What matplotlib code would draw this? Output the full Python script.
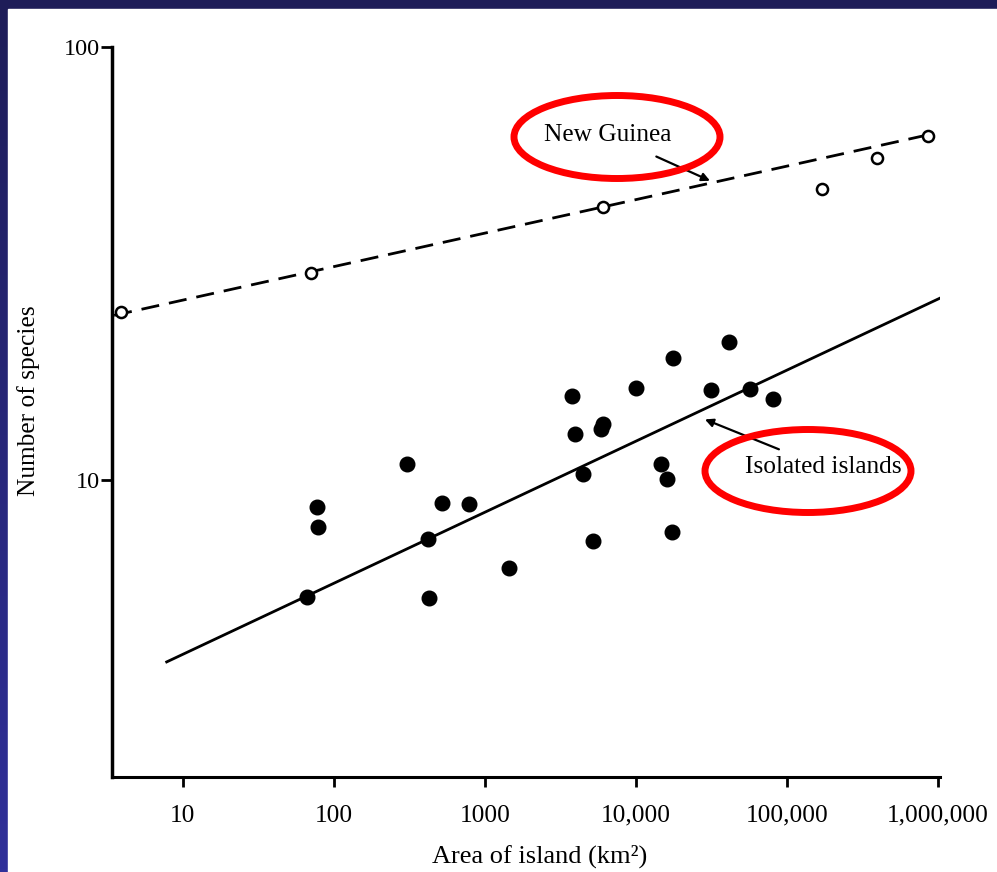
import numpy as np
import matplotlib
matplotlib.use("Agg")
import matplotlib.pyplot as plt
from matplotlib.colors import LinearSegmentedColormap
from matplotlib.patches import Ellipse, Rectangle

# New Guinea: open circles and dashed fit
ng_area = [3.9, 70, 6000, 170000, 394000, 860000]
ng_species = [24.4, 30.1, 42.7, 47.0, 55.5, 62.2]
ng_fit_area = [3.5, 955000]
ng_fit_species = [24.0, 63.2]

# Isolated islands: filled dots and solid fit
iso_area = [66, 77, 78, 304, 420, 426, 519, 783, 1440, 3770, 3940, 4460,
            5190, 5860, 6040, 10000, 14650, 16000, 17300, 17600, 31400,
            41300, 56900, 80700]
iso_species = [5.37, 8.67, 7.79, 10.9, 7.31, 5.34, 8.85, 8.81, 6.27, 15.6,
               12.8, 10.3, 7.22, 13.1, 13.5, 16.3, 10.9, 10.05, 7.59, 19.1,
               16.1, 20.8, 16.2, 15.4]
iso_fit_area = [7.8, 1030000]
iso_fit_species = [3.80, 26.3]

x_ticks = [10, 100, 1000, 10000, 100000, 1000000]
x_tick_labels = ["10", "100", "1000", "10,000", "100,000", "1,000,000"]
y_ticks = [10, 100]
y_tick_labels = ["10", "100"]

W, H = 997, 872
SERIF = "Liberation Serif"

fig = plt.figure(figsize=(W / 100, H / 100), dpi=100)

# slide background: navy gradient with white page
bg = fig.add_axes([0, 0, 1, 1], zorder=-10)
cmap = LinearSegmentedColormap.from_list("navy", ["#1e1d58", "#30309a"])
bg.imshow(np.linspace(0, 1, 256).reshape(-1, 1), aspect="auto", cmap=cmap,
          extent=[0, 1, 0, 1])
bg.add_patch(Rectangle((8 / W, 0), 1 - 8 / W, 1 - 9 / H, color="white"))
bg.set_xlim(0, 1)
bg.set_ylim(0, 1)
bg.axis("off")


def fx(px):
    return px / W


def fy(py):
    return 1 - py / H


ax = fig.add_axes([fx(112), fy(777), fx(940) - fx(112), fy(47) - fy(777)])
ax.patch.set_alpha(0)
ax.set_xscale("log")
ax.set_yscale("log")
ax.set_xlim(10 ** 0.53, 10 ** 6.013)
ax.set_ylim(10 ** 0.314, 100)

ax.plot(ng_fit_area, ng_fit_species, color="black", lw=2, dashes=(6.5, 3.6))
ax.plot(ng_area, ng_species, "o", ms=8, mfc="white", mec="black", mew=1.8,
        clip_on=False)
ax.plot(iso_fit_area, iso_fit_species, color="black", lw=2)
ax.plot(iso_area, iso_species, "o", ms=10.5, color="black")

for s in ["top", "right"]:
    ax.spines[s].set_visible(False)
ax.spines["left"].set_linewidth(2.5)
ax.spines["bottom"].set_linewidth(2.2)

ax.set_xticks(x_ticks)
ax.set_xticklabels(x_tick_labels, fontfamily=SERIF, fontsize=18.3)
ax.set_yticks(y_ticks)
ax.set_yticklabels(y_tick_labels, fontfamily=SERIF, fontsize=17.5)
ax.minorticks_off()
ax.tick_params(axis="x", direction="out", length=7, width=2, pad=13)
ax.tick_params(axis="y", direction="out", length=8, width=2, pad=1)

ax.set_xlabel("Area of island (km²)", fontfamily=SERIF, fontsize=19)
ax.xaxis.set_label_coords(0.517, -0.092)
ax.set_ylabel("Number of species", fontfamily=SERIF, fontsize=18.3)
ax.yaxis.set_label_coords(-0.087, 0.515)

# annotations
ax.annotate("New Guinea", xy=(30900, 49.1), xytext=(6530, 62.7),
            fontfamily=SERIF, fontsize=18.3, ha="center", va="center",
            arrowprops=dict(arrowstyle="-|>", color="black", lw=1.6,
                            shrinkA=14, shrinkB=0, mutation_scale=12))
ax.annotate("Isolated islands", xy=(28600, 13.8), xytext=(52700, 10.7),
            fontfamily=SERIF, fontsize=18.3, ha="left", va="center",
            arrowprops=dict(arrowstyle="-|>", color="black", lw=1.6,
                            shrinkA=8, shrinkB=0, mutation_scale=12))

# red highlight ellipses on the slide
for cx, cy in [(617, 137), (808, 471)]:
    fig.add_artist(Ellipse((fx(cx), fy(cy)), 206 / W, 83 / H,
                           transform=fig.transFigure, fill=False,
                           edgecolor="#ff0000", lw=5, zorder=10))

fig.savefig("out.png", dpi=100)
